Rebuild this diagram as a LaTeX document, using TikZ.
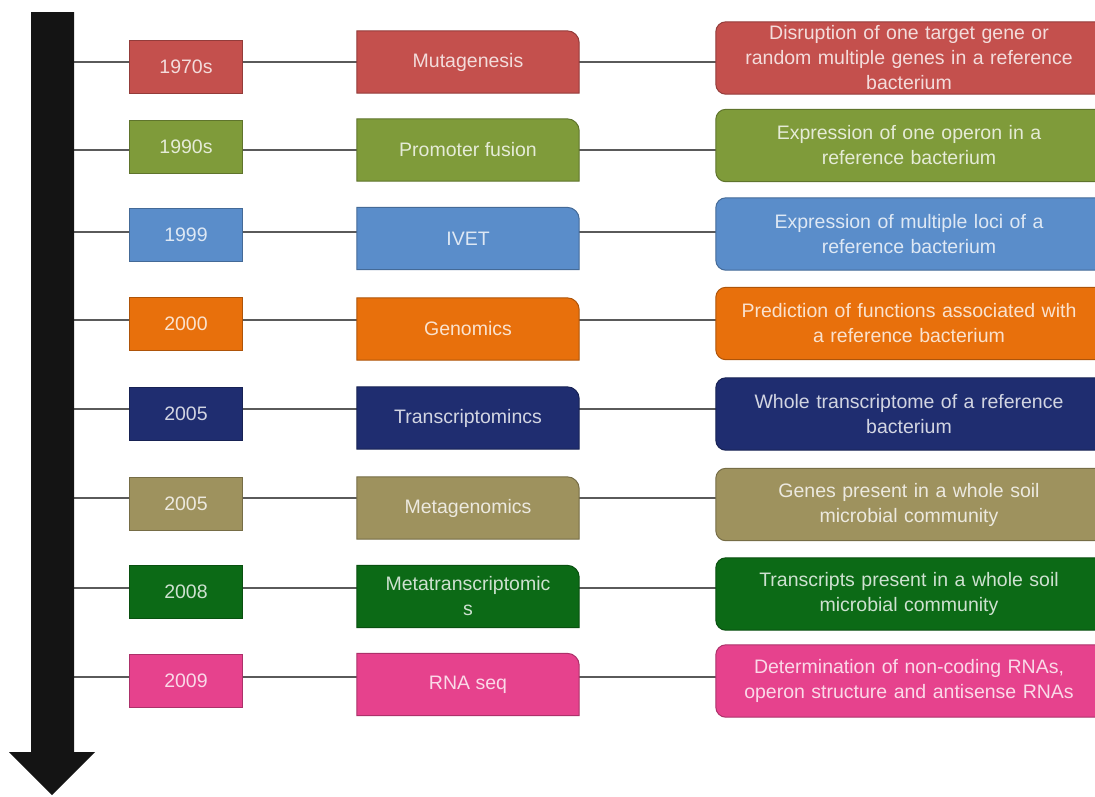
\documentclass[tikz,border=0pt]{standalone}
\usepackage{fontspec}
\setmainfont{Liberation Sans}
\usetikzlibrary{calc}
\pgfdeclarelayer{links}
\pgfdeclarelayer{boxes}
\pgfsetlayers{links,boxes,main}

\definecolor{cred}{HTML}{C4504D}
\definecolor{colive}{HTML}{7F9B3A}
\definecolor{cblue}{HTML}{5A8DCA}
\definecolor{corange}{HTML}{E8700C}
\definecolor{cnavy}{HTML}{1F2D70}
\definecolor{ckhaki}{HTML}{9E925E}
\definecolor{cgreen}{HTML}{0C6A16}
\definecolor{cpink}{HTML}{E6428D}
\definecolor{axis}{HTML}{141414}
\definecolor{linkgray}{HTML}{5A5A5A}

\tikzset{
  boxtext/.style={font=\fontsize{19.5}{25}\selectfont, align=center, inner sep=0pt},
  yearbox/.style={boxtext, minimum width=112pt, minimum height=52pt},
  methbox/.style={boxtext, minimum width=222pt, minimum height=62pt},
  descbox/.style={boxtext, text width=372pt, inner xsep=7pt, minimum height=72pt},
  boxline/.style={line width=1pt},
  link/.style={draw=linkgray, line width=1.6pt}
}

\begin{document}
\begin{tikzpicture}[x=1pt,y=-1pt]
\useasboundingbox (0,0) rectangle (1095,796);

% time axis
\fill[axis] (31,12) -- (74,12) -- (74,752) -- (95,752) -- (52,795)
  -- (9,752) -- (31,752) -- cycle;

\foreach \i/\yy/\ly/\my/\dy/\col/\yr/\meth/\desc in {
  1/67/62/62/58/cred/1970s/Mutagenesis/{Disruption of one target gene or\\random multiple genes in a reference\\bacterium},
  2/147/150/150/145.5/colive/1990s/Promoter fusion/{Expression of one operon in a\\reference bacterium},
  3/235/232/238.5/234/cblue/1999/IVET/{Expression of multiple loci of a\\reference bacterium},
  4/324/320/329/323.5/corange/2000/Genomics/{Prediction of functions associated with\\a reference bacterium},
  5/414/409/418/414/cnavy/2005/Transcriptomincs/{Whole transcriptome of a reference\\bacterium},
  6/504/498/508/504.5/ckhaki/2005/Metagenomics/{Genes present in a whole soil\\microbial community},
  7/592/588/596.5/594/cgreen/2008/{Metatranscriptomic\\s}/{Transcripts present in a whole soil\\microbial community},
  8/681/677/684.5/681/cpink/2009/RNA seq/{Determination of non-coding RNAs,\\operon structure and antisense RNAs}%
}{
  \node[yearbox, text=white!80!\col] (y\i) at (186,\yy) {\yr};
  \node[methbox, text=white!80!\col] (m\i) at (468,\my) {\meth};
  \node[descbox, text=white!80!\col] (d\i) at (909,\dy) {\desc};
  \coordinate (s\i) at (74,\ly);
  \begin{pgfonlayer}{boxes}
    \filldraw[boxline, fill=\col, draw=\col!75!black]
      (y\i.south west) rectangle (y\i.north east);
    \filldraw[boxline, fill=\col, draw=\col!75!black]
      (m\i.south west) -- (m\i.north west) -- ([xshift=-12pt]m\i.north east)
      arc[start angle=90, end angle=0, radius=12pt] -- (m\i.south east) -- cycle;
    \filldraw[boxline, fill=\col, draw=\col!75!black]
      ([xshift=10pt]d\i.north west) -- (d\i.north east) -- (d\i.south east)
      -- ([xshift=10pt]d\i.south west)
      arc[start angle=270, end angle=180, radius=10pt]
      -- ([yshift=-10pt]d\i.north west)
      arc[start angle=180, end angle=90, radius=10pt] -- cycle;
  \end{pgfonlayer}
  \begin{pgfonlayer}{links}
    \draw[link] (s\i) -- (s\i -| d\i.west);
  \end{pgfonlayer}
}
\end{tikzpicture}
\end{document}
